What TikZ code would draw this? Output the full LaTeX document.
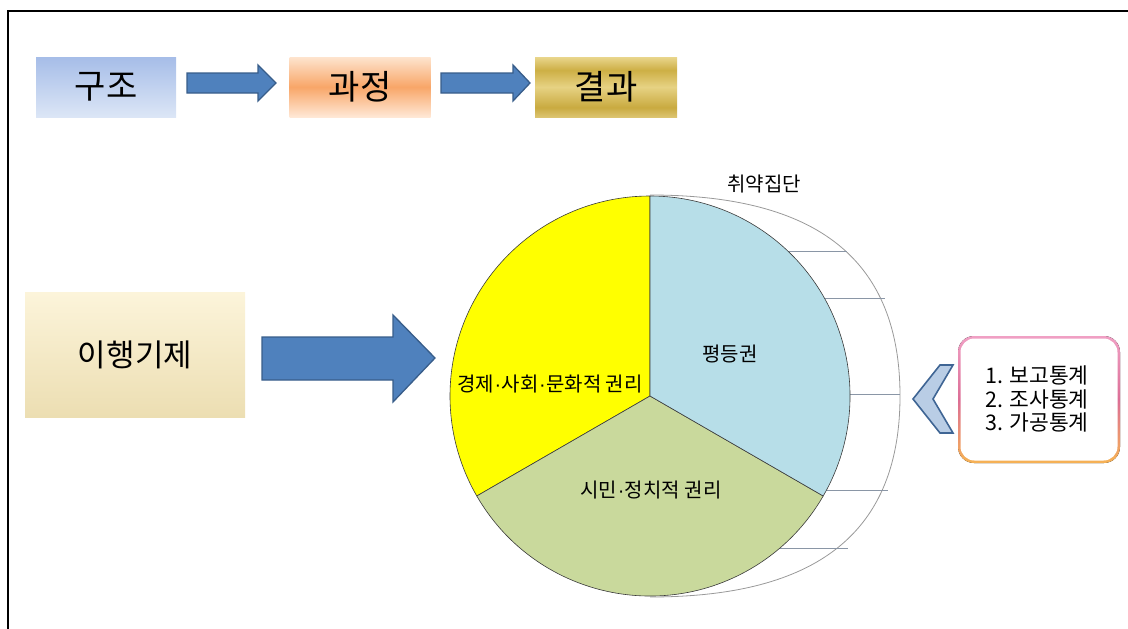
\documentclass[tikz,border=0pt]{standalone}
\usepackage{fontspec}
\setmainfont{Noto Sans CJK KR}
\newfontfamily\latinfont{Liberation Sans}
\newcommand\mdot{{\latinfont\kern0.5pt·\kern0.5pt}}
\definecolor{arrowfill}{HTML}{4F81BD}
\definecolor{arrowdraw}{HTML}{385D8A}
\definecolor{pieyellow}{HTML}{FFFF00}
\definecolor{pieblue}{HTML}{B7DEE8}
\definecolor{piegreen}{HTML}{C9D99C}
\definecolor{piedraw}{HTML}{3A3A3A}
\definecolor{chevfill}{HTML}{B9CDE5}
\definecolor{chevdraw}{HTML}{3F6594}
\definecolor{tickcol}{HTML}{8A96A6}
\definecolor{goldA}{HTML}{E9D68C}
\definecolor{goldB}{HTML}{CDAF45}
\definecolor{goldC}{HTML}{E6D283}
\definecolor{goldD}{HTML}{C9AA40}
\definecolor{goldE}{HTML}{DCC470}
\pgfdeclareverticalshading{goldshade}{100bp}{color(0bp)=(goldE); color(25bp)=(goldE); color(33bp)=(goldD); color(50bp)=(goldC); color(64bp)=(goldB); color(75bp)=(goldA); color(100bp)=(goldA)}
\begin{document}
\begin{tikzpicture}[x=1pt,y=-1pt,
  topbox/.style={minimum height=60pt, inner sep=0pt, font=\fontsize{34}{40}\selectfont},
  blockarrow/.style={fill=arrowfill, draw=arrowdraw, line width=1.3pt, line join=miter},
  slice/.style={draw=piedraw, line width=0.6pt, line join=round},
  outerarc/.style={draw=black!40, line width=0.8pt},
  tickline/.style={draw=tickcol, line width=0.6pt},
  pielabel/.style={inner sep=0pt, font=\fontsize{20}{24}\selectfont},
]
\useasboundingbox (0,0) rectangle (1128,629);
\draw[line width=2pt] (8,630) -- (8,11) -- (1129,11);

% top row
\node[topbox, minimum width=140pt, top color={rgb,255:red,166;green,189;blue,232}, bottom color={rgb,255:red,220;green,230;blue,246}] (gujo) at (106,87) {구조};
\node[topbox, minimum width=141pt, top color={rgb,255:red,254;green,228;blue,206}, bottom color={rgb,255:red,255;green,232;blue,214}, middle color={rgb,255:red,248;green,166;blue,104}] (gwajeong) at (360,87) {과정};
\node[topbox, minimum width=142pt, shading=goldshade] (gyeolgwa) at (606,87) {결과};

\draw[blockarrow] (187,73) -- (258,73) -- (258,65) -- (276,83) -- (258,101) -- (258,93) -- (187,93) -- cycle;
\draw[blockarrow] (441,73) -- (513,73) -- (513,65) -- (530,83) -- (513,101) -- (513,93) -- (441,93) -- cycle;

% left box and big arrow
\node[minimum width=220pt, minimum height=125pt, inner sep=0pt, top color={rgb,255:red,252;green,244;blue,218}, bottom color={rgb,255:red,236;green,222;blue,178}, font=\fontsize{31}{36}\selectfont] (ihaeng) at (135,355) {이행기제};
\draw[blockarrow] (262,337) -- (393,337) -- (393,315) -- (435,358) -- (393,402) -- (393,380) -- (262,380) -- cycle;

% outer arc and ticks
\draw[outerarc] (650,195) .. controls (805,195) and (900,250) .. (900,396) .. controls (900,542) and (805,597) .. (650,597);
\draw[tickline] (788,251) -- (847,251);
\draw[tickline] (824,298) -- (885,298);
\draw[tickline] (850,394) -- (900,394);
\draw[tickline] (826,490) -- (888,490);
\draw[tickline] (780,548) -- (848,548);

% pie
\begin{scope}[shift={(650,396)}]
\filldraw[slice, fill=pieyellow] (0pt,0pt) -- (90:200pt) arc[start angle=90, end angle=210, radius=200pt] -- cycle;
\filldraw[slice, fill=piegreen] (0pt,0pt) -- (210:200pt) arc[start angle=210, end angle=330, radius=200pt] -- cycle;
\filldraw[slice, fill=pieblue] (0pt,0pt) -- (330:200pt) arc[start angle=-30, end angle=90, radius=200pt] -- cycle;
\end{scope}

\node[pielabel] (econ) at (550,384) {경제\mdot 사회\mdot 문화적 권리};
\node[pielabel] (equal) at (730,354) {평등권};
\node[pielabel] (civil) at (651,490) {시민\mdot 정치적 권리};
\node[pielabel] (vuln) at (764,184) {취약집단};

% chevron
\filldraw[fill=chevfill, draw=chevdraw, line width=1.6pt, line join=miter] (940,365) -- (953,365) -- (933,399) -- (953,433) -- (940,433) -- (913,399) -- cycle;

% stats box
\fill[rounded corners=16pt, top color={rgb,255:red,240;green,160;blue,196}, bottom color={rgb,255:red,246;green,178;blue,84}, middle color={rgb,255:red,220;green,110;blue,150}] (958,336) rectangle (1120,463);
\fill[white, rounded corners=14pt] (960.5,338.5) rectangle (1117.5,460.5);
\node[align=left, inner sep=0pt, font=\fontsize{21.5}{23.5}\selectfont] (stats) at (1037,399) {1. 보고통계\\2. 조사통계\\3. 가공통계};
\end{tikzpicture}
\end{document}
